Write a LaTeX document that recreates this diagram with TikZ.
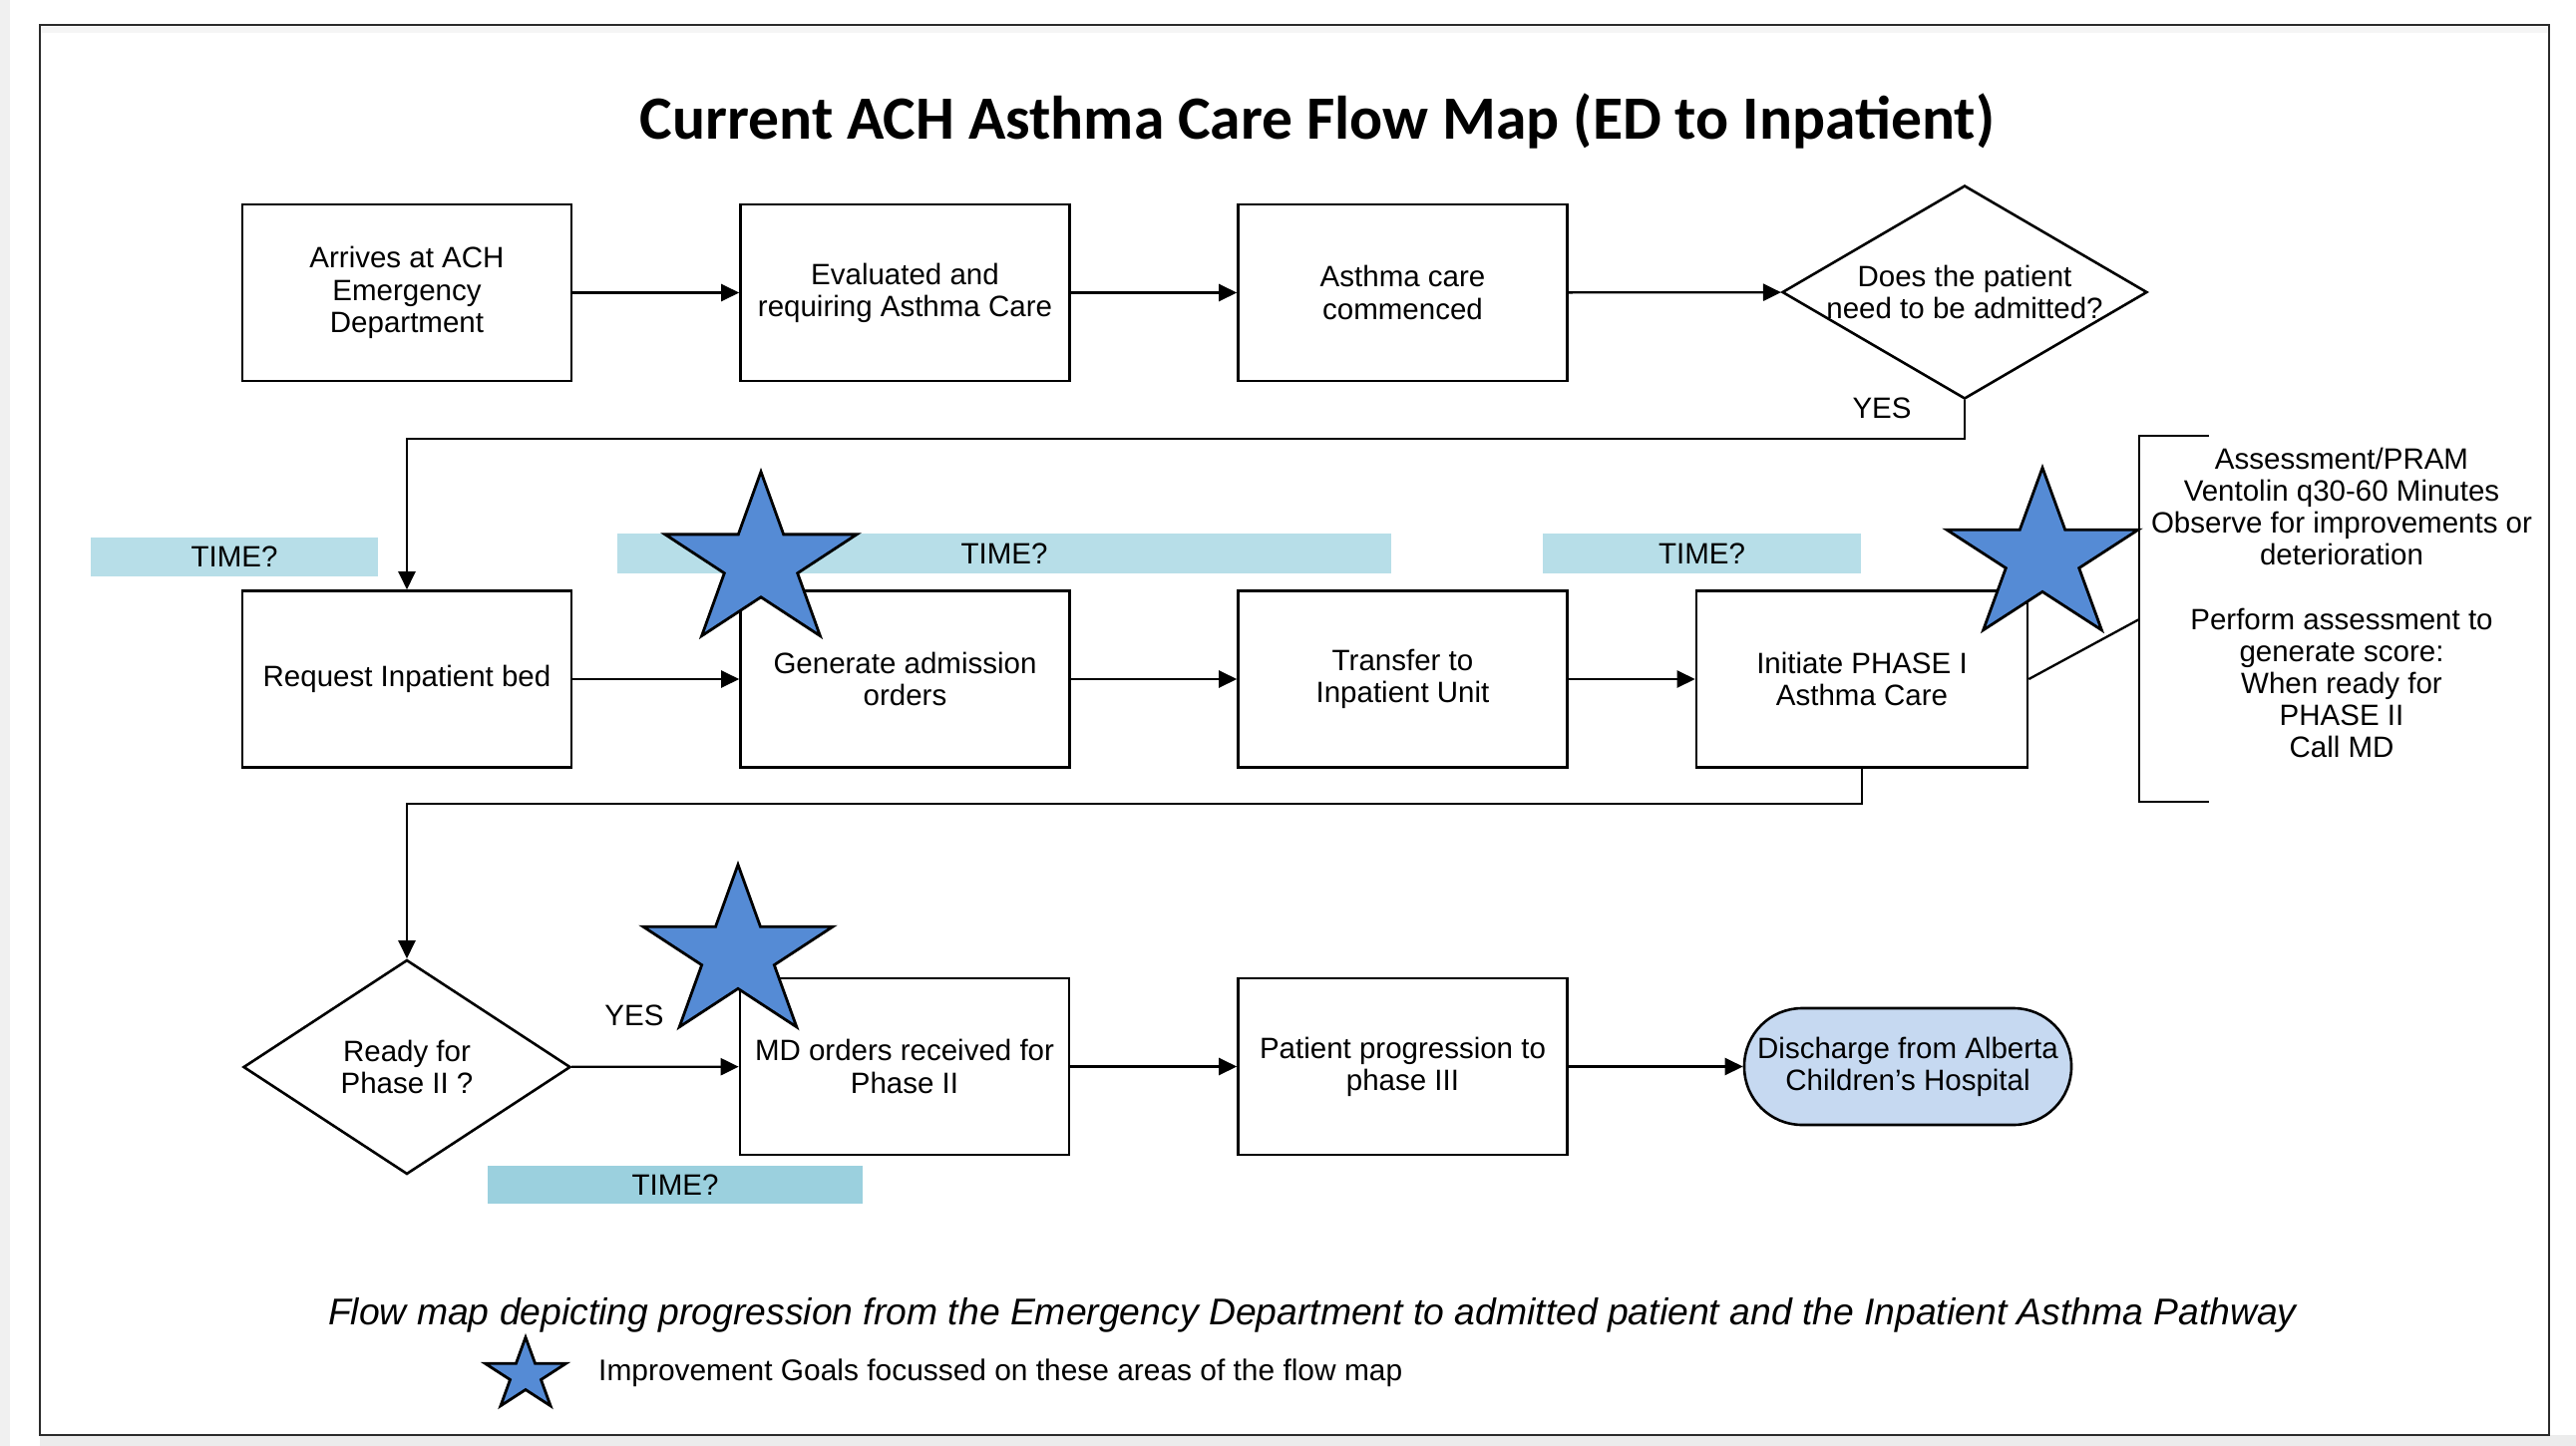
\documentclass[tikz,border=0pt]{standalone}
\usepackage{fontspec}
\setmainfont{Liberation Sans}
\newfontfamily\titlefont{Carlito}
\usetikzlibrary{arrows.meta,shapes.geometric}
\definecolor{timeblue}{HTML}{B7DEE8}
\definecolor{timeblueb}{HTML}{9BD0DE}
\definecolor{starblue}{HTML}{558BD5}
\definecolor{dischblue}{HTML}{C6D9F1}
\definecolor{framegray}{HTML}{2B2B2B}
\begin{document}
\begin{tikzpicture}[x=1pt,y=-1pt,
  every node/.style={font=\fontsize{29.5}{32.2}\selectfont, inner sep=0pt, align=center},
  procbox/.style={draw, line width=2.6pt, minimum width=330pt, minimum height=177pt},
  decis/.style={draw, diamond, line width=2.6pt},
  timebar/.style={fill=timeblue, minimum height=40pt},
  flow/.style={line width=2.3pt, -{Triangle[length=18pt,width=17pt]}},
  link/.style={line width=2.3pt},
  impstar/.pic={\filldraw[fill=starblue, draw=black, line width=2.8pt, line join=miter]
     (90:1) -- (126:0.382) -- (162:1) -- (198:0.382) -- (234:1) -- (270:0.382)
     -- (306:1) -- (342:0.382) -- (18:1) -- (54:0.382) -- cycle;}
]
\useasboundingbox (0,0) rectangle (2583,1450);
% page shadow and frame
\fill[gray!12] (0,0) rectangle (10,1450);
\fill[gray!15] (40,1439) rectangle (2583,1450);
\fill[gray!8] (41,27) rectangle (2555,33);
\draw[framegray, line width=2.5pt] (40,25) rectangle (2556,1439);

% title
\node[font=\titlefont\bfseries\fontsize{61.6}{70}\selectfont] (title) at (1321,121)
  {Current ACH Asthma Care Flow Map (ED to Inpatient)};

% time bars
\node[timebar, minimum width=288pt, minimum height=39pt] (t1) at (235,558.5) {TIME?};
\node[timebar, minimum width=776pt] (t2) at (1007,555) {TIME?};
\node[timebar, minimum width=319pt] (t3) at (1706.5,555) {TIME?};
\node[timebar, fill=timeblueb, minimum width=376pt, minimum height=38pt] (t4) at (677,1188) {TIME?};

% row 1
\node[procbox] (b1) at (408,293.5) {Arrives at ACH\\Emergency\\Department};
\node[procbox] (b2) at (907.5,293.5) {Evaluated and\\requiring Asthma Care};
\node[procbox] (b3) at (1406.5,293.5) {Asthma care\\commenced};
\node[decis, minimum width=366pt, minimum height=214pt] (d1) at (1970,293) {};
\node (d1t) at (d1.center) {Does the patient\\need to be admitted?};

% row 2
\node[procbox] (b4) at (408,681) {Request Inpatient bed};
\node[procbox] (b5) at (907.5,681) {Generate admission\\orders};
\node[procbox] (b6) at (1406.5,681) {Transfer to\\Inpatient Unit};
\node[procbox, minimum width=332pt] (b7) at (1867,681) {Initiate PHASE I\\Asthma Care};

% row 3
\node[decis, minimum width=328pt, minimum height=215pt] (d2) at (408,1070) {};
\node (d2t) at (d2.center) {Ready for\\Phase II ?};
\node[procbox] (b8) at (907,1069.5) {MD orders received for\\Phase II};
\node[procbox] (b9) at (1406.5,1069.5) {Patient progression to\\phase III};
\node[draw, fill=dischblue, line width=2.6pt, rounded corners=58pt, minimum width=328pt, minimum height=117pt] (e1) at (1913,1069.5)
  {Discharge from Alberta\\Children’s Hospital};

% connectors
\draw[flow] (b1) -- (b2);
\draw[flow] (b2) -- (b3);
\draw[flow] (b3) -- (d1);
\coordinate (j1) at (1970,440);
\draw[flow] (d1.south) -- (j1) -| (b4.north);
\draw[flow] (b4) -- (b5);
\draw[flow] (b5) -- (b6);
\draw[flow] (b6) -- (b7);
\coordinate (j2) at (1867,806);
\draw[flow] (b7.south) -- (j2) -| (d2.north);
\draw[flow] (d2) -- (b8);
\draw[flow] (b8) -- (b9);
\draw[flow] (b9) -- (e1);

\node (yes1) at (1887,409) {YES};
\node (yes2) at (636,1018) {YES};

% annotation bracket
\coordinate (bk) at (2145,621);
\draw[link] (b7.east) -- (bk);
\draw[link] (2215,437) -- (2145,437) -- (2145,804) -- (2215,804);
\node (note) at (2348,604.5) {Assessment/PRAM\\Ventolin q30-60 Minutes\\Observe for improvements or\\deterioration\\[32.2pt]Perform assessment to\\generate score:\\When ready for\\PHASE II\\Call MD};

% stars
\pic[xscale=101, yscale=-91] at (763,564) {impstar};
\pic[xscale=101, yscale=-90] at (2048,559) {impstar};
\pic[xscale=100, yscale=-90] at (740,957) {impstar};

% caption and legend
\node[font=\itshape\fontsize{37.3}{40}\selectfont] (cap) at (1316,1319)
  {Flow map depicting progression from the Emergency Department to admitted patient and the Inpatient Asthma Pathway};
\pic[xscale=42.6, yscale=-38] at (527,1379) {impstar};
\node[anchor=west, font=\fontsize{29.9}{32}\selectfont] (leg) at (600,1377) {Improvement Goals focussed on these areas of the flow map};
\end{tikzpicture}
\end{document}
